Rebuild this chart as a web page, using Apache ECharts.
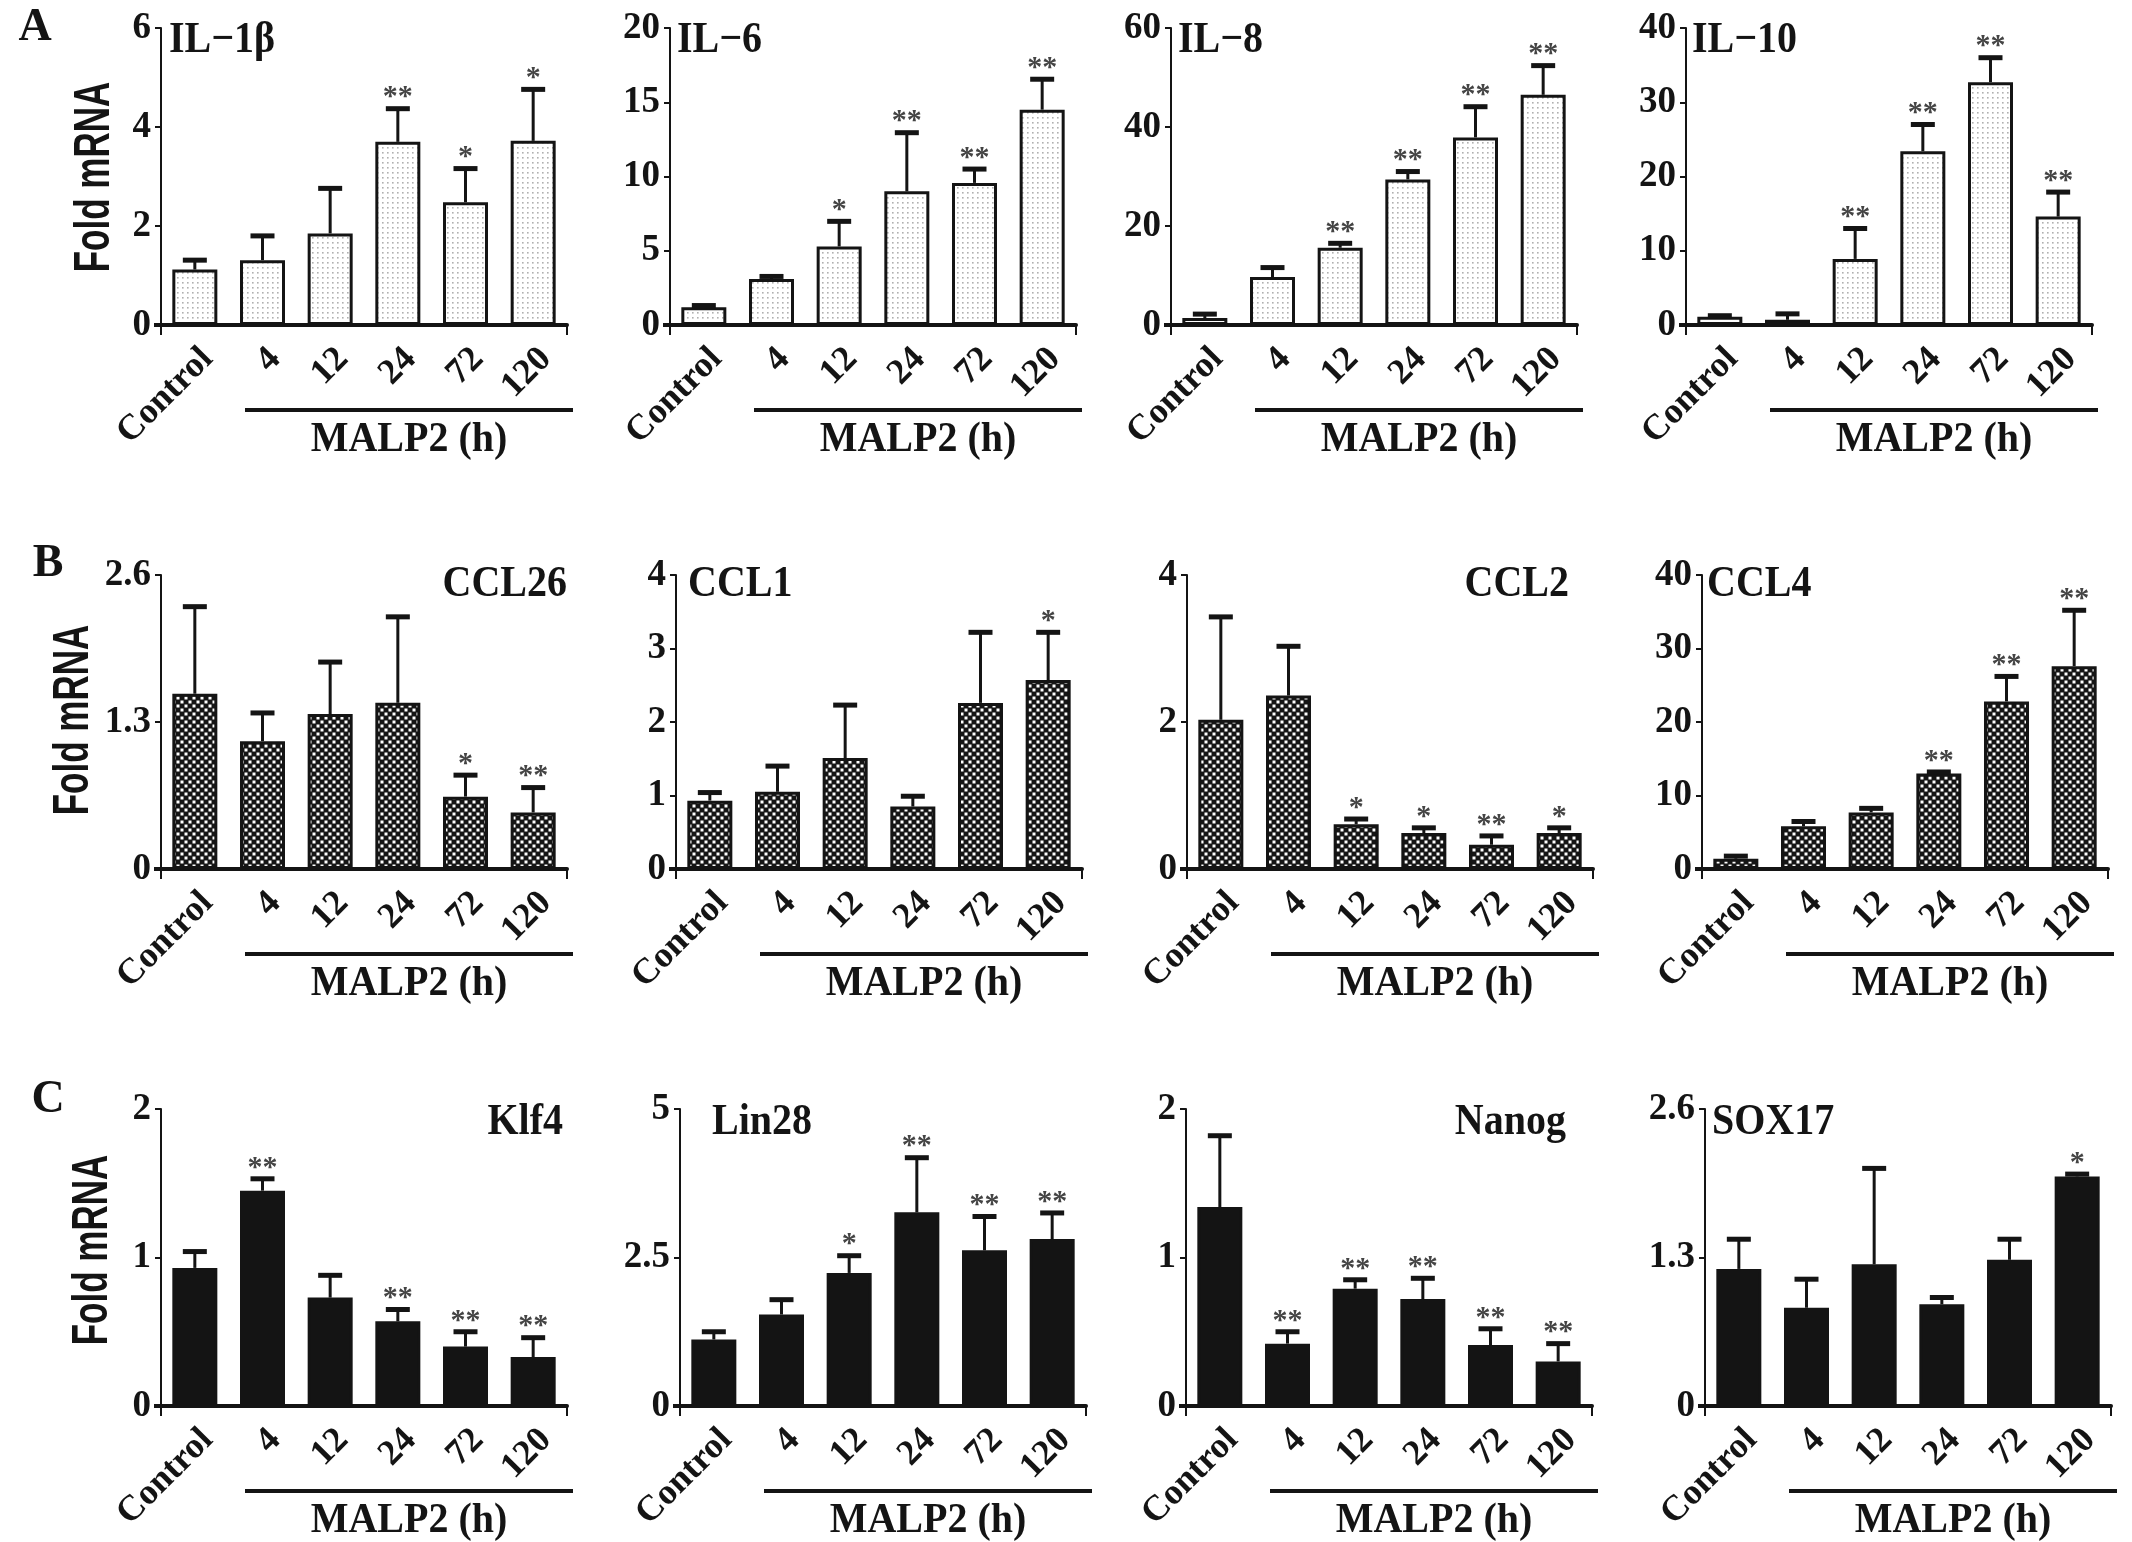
<!DOCTYPE html>
<html><head><meta charset="utf-8">
<script src="https://cdn.jsdelivr.net/npm/echarts@6/dist/echarts.min.js"></script>
<style>html,body{margin:0;padding:0;background:#fff}#c{width:2132px;height:1542px}</style>
</head><body><div id="c"></div>
<script>
// ---------------- DATA ----------------
const categories = ['Control', '4', '12', '24', '72', '120'];

const il1bMean = [1.12, 1.31, 1.85, 3.70, 2.48, 3.72];
const il1bSd   = [0.19, 0.49, 0.91, 0.67, 0.68, 1.04];
const il1bSig  = ['', '', '', '**', '*', '*'];

const il6Mean = [1.19, 3.10, 5.29, 9.00, 9.57, 14.50];
const il6Sd   = [0.12, 0.17, 1.69, 3.95, 0.93, 2.05];
const il6Sig  = ['', '', '*', '**', '**', '**'];

const il8Mean = [1.4, 9.7, 15.6, 29.4, 37.9, 46.5];
const il8Sd   = [0.8, 1.9, 0.9, 1.6, 6.2, 5.9];
const il8Sig  = ['', '', '**', '**', '**', '**'];

const il10Mean = [1.1, 0.7, 8.9, 23.4, 32.7, 14.6];
const il10Sd   = [0.15, 0.8, 4.1, 3.6, 3.3, 3.3];
const il10Sig  = ['', '', '**', '**', '**', '**'];

const ccl26Mean = [1.55, 1.13, 1.37, 1.47, 0.64, 0.50];
const ccl26Sd   = [0.77, 0.25, 0.46, 0.76, 0.19, 0.22];
const ccl26Sig  = ['', '', '', '', '*', '**'];

const ccl1Mean = [0.93, 1.05, 1.51, 0.85, 2.26, 2.57];
const ccl1Sd   = [0.11, 0.35, 0.72, 0.14, 0.96, 0.65];
const ccl1Sig  = ['', '', '', '', '', '*'];

const ccl2Mean = [2.03, 2.36, 0.61, 0.49, 0.33, 0.49];
const ccl2Sd   = [1.40, 0.67, 0.07, 0.07, 0.12, 0.07];
const ccl2Sig  = ['', '', '*', '*', '**', '*'];

const ccl4Mean = [1.4, 5.8, 7.7, 13.0, 22.8, 27.6];
const ccl4Sd   = [0.35, 0.66, 0.55, 0.2, 3.4, 7.6];
const ccl4Sig  = ['', '', '', '**', '**', '**'];

const klf4Mean = [0.93, 1.45, 0.73, 0.57, 0.40, 0.33];
const klf4Sd   = [0.11, 0.08, 0.15, 0.08, 0.10, 0.13];
const klf4Sig  = ['', '**', '', '**', '**', '**'];

const lin28Mean = [1.12, 1.54, 2.24, 3.26, 2.62, 2.81];
const lin28Sd   = [0.13, 0.25, 0.29, 0.92, 0.57, 0.44];
const lin28Sig  = ['', '', '*', '**', '**', '**'];

const nanogMean = [1.34, 0.42, 0.79, 0.72, 0.41, 0.30];
const nanogSd   = [0.48, 0.08, 0.06, 0.14, 0.11, 0.12];
const nanogSig  = ['', '**', '**', '**', '**', '**'];

const sox17Mean = [1.20, 0.86, 1.24, 0.89, 1.28, 2.01];
const sox17Sd   = [0.26, 0.25, 0.84, 0.06, 0.18, 0.02];
const sox17Sig  = ['', '', '', '', '', '*'];

const panelTitles = ['IL\u22121\u03b2', 'IL\u22126', 'IL\u22128', 'IL\u221210',
                     'CCL26', 'CCL1', 'CCL2', 'CCL4',
                     'Klf4', 'Lin28', 'Nanog', 'SOX17'];
const yMax      = [6, 20, 60, 40, 2.6, 4, 4, 40, 2, 5, 2, 2.6];
const yInterval = [2, 5, 20, 10, 1.3, 1, 2, 10, 1, 2.5, 1, 1.3];
const rowLetters = ['A', 'B', 'C'];
const yAxisName = 'Fold mRNA';
const groupLabel = 'MALP2 (h)';

// ---------------- LAYOUT ----------------
const means = [il1bMean, il6Mean, il8Mean, il10Mean, ccl26Mean, ccl1Mean, ccl2Mean, ccl4Mean, klf4Mean, lin28Mean, nanogMean, sox17Mean];
const sds   = [il1bSd, il6Sd, il8Sd, il10Sd, ccl26Sd, ccl1Sd, ccl2Sd, ccl4Sd, klf4Sd, lin28Sd, nanogSd, sox17Sd];
const sigs  = [il1bSig, il6Sig, il8Sig, il10Sig, ccl26Sig, ccl1Sig, ccl2Sig, ccl4Sig, klf4Sig, lin28Sig, nanogSig, sox17Sig];

const rowTop = [28, 575, 1109];
const rowBottom = [325, 869, 1406];
const lefts = [[161, 670, 1171, 1686], [161, 676, 1187, 1702], [161, 680, 1186, 1705]];
const W = 406;
const titlePlace = [['left', 8], ['left', 7], ['left', 7], ['left', 6],
                    ['right', 0], ['left', 12], ['right', -24], ['left', 5],
                    ['right', -4], ['left', 32], ['right', -26], ['left', 7]];
const titleY = [41, 585, 1123];
const SERIF = '"Liberation Serif", "Times New Roman", serif';
const SANS = '"Liberation Sans", Arial, sans-serif';
const INK = '#141414';

function stipple() {
  const c = document.createElement('canvas'); c.width = 5; c.height = 5;
  const g = c.getContext('2d');
  g.fillStyle = '#ffffff'; g.fillRect(0, 0, 5, 5);
  g.fillStyle = '#b0b0b0'; g.fillRect(2, 2, 1.6, 1.6);
  return c;
}
function checker() {
  const c = document.createElement('canvas'); c.width = 8; c.height = 8;
  const g = c.getContext('2d');
  g.fillStyle = '#151515'; g.fillRect(0, 0, 8, 8);
  g.fillStyle = '#ffffff'; g.fillRect(0.5, 0.5, 3, 3); g.fillRect(4.5, 4.5, 3, 3);
  return c;
}
const fills = [{ image: stipple(), repeat: 'repeat' }, { image: checker(), repeat: 'repeat' }, INK];

const grid = [], xAxis = [], yAxis = [], series = [], graphic = [];

for (let p = 0; p < 12; p++) {
  const r = Math.floor(p / 4), c = p % 4;
  const left = lefts[r][c], top = rowTop[r], h = rowBottom[r] - rowTop[r];
  grid.push({ left: left, top: top, width: W, height: h, containLabel: false });
  xAxis.push({
    type: 'category', gridIndex: p, data: categories, boundaryGap: true,
    axisLine: { show: true, lineStyle: { color: INK, width: 4 } },
    axisTick: { show: true, length: 10, inside: false, lineStyle: { color: INK, width: 2 },
                interval: function (i) { return i === 3; } },
    axisLabel: { rotate: 45, margin: 16, interval: 0, color: INK, verticalAlign: 'top',
                 fontFamily: SERIF, fontWeight: 'bold', fontSize: 36 },
    splitLine: { show: false }
  });
  yAxis.push({
    type: 'value', gridIndex: p, min: 0, max: yMax[p], interval: yInterval[p],
    axisLine: { show: true, lineStyle: { color: INK, width: 2 } },
    axisTick: { show: true, length: 6, lineStyle: { color: INK, width: 2 } },
    axisLabel: { margin: 10, color: INK, fontFamily: SERIF, fontWeight: 'bold', fontSize: 37,
                 formatter: function (v) { return String(Math.round(v * 10) / 10); } },
    splitLine: { show: false }
  });
  series.push({
    type: 'bar', xAxisIndex: p, yAxisIndex: p, data: means[p], barWidth: 45,
    itemStyle: { color: fills[r], borderColor: INK, borderWidth: 3 },
    emphasis: { disabled: true }, z: 2
  });
  const sig = sigs[p];
  series.push({
    type: 'custom', xAxisIndex: p, yAxisIndex: p, z: 5,
    data: means[p].map(function (m, i) { return [i, m, sds[p][i]]; }),
    renderItem: function (params, api) {
      const i = api.value(0), m = api.value(1), s = api.value(2);
      const b = api.coord([i, m]);
      const t = api.coord([i, m + s]);
      const ch = [
        { type: 'line', shape: { x1: b[0], y1: b[1], x2: t[0], y2: t[1] }, style: { stroke: INK, lineWidth: 3 } },
        { type: 'line', shape: { x1: t[0] - 12, y1: t[1], x2: t[0] + 12, y2: t[1] }, style: { stroke: INK, lineWidth: 5 } }
      ];
      const sg = sig[params.dataIndex];
      if (sg) ch.push({ type: 'text', x: t[0], y: t[1] + 4,
        style: { text: sg, fill: '#444444', font: 'bold 30px ' + SERIF, align: 'center', verticalAlign: 'bottom' } });
      return { type: 'group', children: ch };
    }
  });
  const tp = titlePlace[p];
  const tx = tp[0] === 'left' ? left + tp[1] : left + W + tp[1];
  graphic.push({ type: 'text', x: tx, y: titleY[r], z: 10, scaleY: 1.1,
    style: { text: panelTitles[p], fill: INK, font: 'bold 40px ' + SERIF, align: tp[0], verticalAlign: 'middle' } });
  const by = rowBottom[r];
  graphic.push({ type: 'rect', shape: { x: left - 7, y: by - 2, width: 8, height: 4 }, style: { fill: INK } });
  graphic.push({ type: 'rect', shape: { x: left + 84, y: by + 83, width: 328, height: 4 }, style: { fill: INK } });
  graphic.push({ type: 'text', x: left + 248, y: by + 115, scaleY: 1.05,
    style: { text: groupLabel, fill: INK, font: 'bold 40px ' + SERIF, align: 'center', verticalAlign: 'middle' } });
}

const letterPos = [[35, 28], [48, 564], [48, 1100]];
const foldPos = [[95, 177], [74, 720], [93, 1250]];
for (let r = 0; r < 3; r++) {
  graphic.push({ type: 'text', x: letterPos[r][0], y: letterPos[r][1],
    style: { text: rowLetters[r], fill: INK, font: 'bold 46px ' + SERIF, align: 'center', verticalAlign: 'middle' } });
  graphic.push({ type: 'text', x: foldPos[r][0], y: foldPos[r][1], rotation: Math.PI / 2, scaleY: 1.45,
    style: { text: yAxisName, fill: INK, font: 'bold 35px ' + SANS, align: 'center', verticalAlign: 'middle' } });
}

const chart = echarts.init(document.getElementById('c'), null, { renderer: 'canvas' });
chart.setOption({
  backgroundColor: '#ffffff',
  animation: false,
  grid: grid, xAxis: xAxis, yAxis: yAxis, series: series, graphic: graphic
});
</script></body></html>
